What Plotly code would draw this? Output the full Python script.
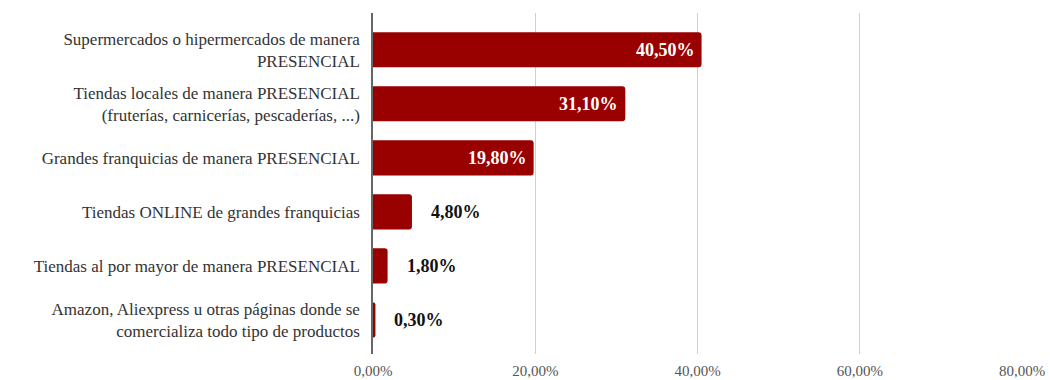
import plotly.graph_objects as go

categories = [
    "Supermercados o hipermercados de manera<br>PRESENCIAL",
    "Tiendas locales de manera PRESENCIAL<br>(fruterías, carnicerías, pescaderías, ...)",
    "Grandes franquicias de manera PRESENCIAL",
    "Tiendas ONLINE de grandes franquicias",
    "Tiendas al por mayor de manera PRESENCIAL",
    "Amazon, Aliexpress u otras páginas donde se<br>comercializa todo tipo de productos",
]
values = [40.5, 31.1, 19.8, 4.8, 1.8, 0.3]
tick_values = [0, 20, 40, 60, 80]

BAR_COLOR = "#990000"
FONT = "Liberation Serif, Times New Roman, serif"


def fmt(v):
    return f"{v:.2f}".replace(".", ",") + "%"


fig = go.Figure(
    go.Bar(
        x=values,
        y=categories,
        orientation="h",
        marker=dict(color=BAR_COLOR, line=dict(width=0)),
        width=0.65,
        hoverinfo="skip",
    )
)

# value labels: inside the long bars (white), beside the short ones (black)
for cat, v in zip(categories, values):
    inside = v > 10
    fig.add_annotation(
        x=v,
        y=cat,
        text=f"<b>{fmt(v)}</b>",
        showarrow=False,
        xanchor="right" if inside else "left",
        xshift=-5 if inside else 17,
        font=dict(family=FONT, size=18, color="#ffffff" if inside else "#111111"),
    )

fig.update_layout(
    width=1050,
    height=380,
    margin=dict(l=373, r=28, t=13, b=26),
    paper_bgcolor="white",
    plot_bgcolor="white",
    showlegend=False,
    barcornerradius=3,
    font=dict(family=FONT, size=17, color="#333333"),
    xaxis=dict(
        range=[0, 80],
        tickmode="array",
        tickvals=tick_values,
        ticktext=[fmt(v) for v in tick_values],
        showgrid=True,
        gridcolor="#d0d0d0",
        gridwidth=1,
        zeroline=False,
        showline=False,
        ticks="",
        ticklabelstandoff=6,
        automargin=False,
        tickfont=dict(family=FONT, size=15, color="#555555"),
    ),
    yaxis=dict(
        range=[5.63, -0.68],
        showgrid=False,
        zeroline=False,
        showline=True,
        linecolor="#666666",
        linewidth=1.5,
        ticks="",
        ticklabelstandoff=8,
        automargin=False,
        tickfont=dict(family=FONT, size=17, color="#333333"),
    ),
)

fig.write_html("out.html")
